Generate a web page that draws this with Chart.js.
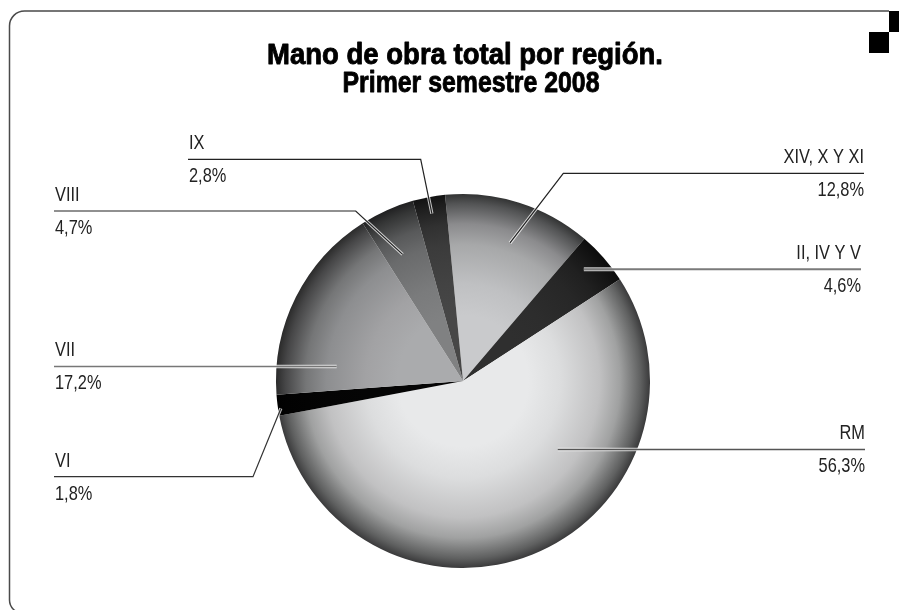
<!DOCTYPE html>
<html>
<head>
<meta charset="utf-8">
<script src="https://cdn.jsdelivr.net/npm/chart.js@4.4.1/dist/chart.umd.min.js"></script>
<style>
html,body{margin:0;padding:0;background:#fff;}
#c{display:block;}
</style>
</head>
<body>
<canvas id="c" width="899" height="610"></canvas>
<script>
// ---- data ----
const titleLines = ['Mano de obra total por región.', 'Primer semestre 2008'];
const regions = ['XIV, X Y XI', 'II, IV Y V', 'RM', 'VI', 'VII', 'VIII', 'IX'];
const shares = [12.8, 4.6, 56.3, 1.8, 17.2, 4.7, 2.8];
const sliceColors = ['#c9cacc', '#2f2f2f', '#e8e9ea', '#050505', '#aaabad', '#808182', '#474747'];

// ---- label layout (positions only, no data) ----
const labelLayout = [
  {side:'right', lineY:173.3, outerX:864, elbowX:563.3, delta:1.3, frac:0.78, color:'#222', w:1.2},
  {side:'right', lineY:null, outerX:861, elbowX:null, delta:-1.5, frac:0.88, color:'#7a7a7a', w:2},
  {side:'right', lineY:null, outerX:865, elbowX:null, delta:-32.3, frac:0.625, color:'#555', w:1.5},
  {side:'left', lineY:476.7, outerX:54, elbowX:253, delta:-1.1, frac:0.985, color:'#333', w:1.2},
  {side:'left', lineY:null, outerX:54, elbowX:null, delta:-20.1, frac:0.68, color:'#777', w:1.6},
  {side:'left', lineY:211, outerX:54, elbowX:355.7, delta:-1.5, frac:0.75, color:'#222', w:1.2},
  {side:'left', lineY:159.3, outerX:188, elbowX:420.7, delta:0, frac:0.91, color:'#222', w:1.2}
];

function shade(hex, f) {
  const n = parseInt(hex.slice(1), 16);
  const r = Math.round(((n >> 16) & 255) * f);
  const g = Math.round(((n >> 8) & 255) * f);
  const b = Math.round((n & 255) * f);
  return 'rgb(' + r + ',' + g + ',' + b + ')';
}

function sliceFill(context) {
  const chart = context.chart;
  const area = chart.chartArea;
  const base = sliceColors[context.dataIndex];
  if (!area) return base;
  const cx = (area.left + area.right) / 2;
  const cy = (area.top + area.bottom) / 2;
  const r = Math.min(area.right - area.left, area.bottom - area.top) / 2;
  const g = chart.ctx.createRadialGradient(cx, cy, 0, cx, cy, r);
  g.addColorStop(0, shade(base, 1));
  g.addColorStop(0.35, shade(base, 1));
  g.addColorStop(0.52, shade(base, 0.95));
  g.addColorStop(0.73, shade(base, 0.83));
  g.addColorStop(0.84, shade(base, 0.69));
  g.addColorStop(0.95, shade(base, 0.41));
  g.addColorStop(1, shade(base, 0.25));
  return g;
}

function drawText(ctx, s, x, y, align, font, sx, color) {
  ctx.save();
  ctx.font = font;
  ctx.fillStyle = color;
  ctx.textAlign = align;
  ctx.textBaseline = 'alphabetic';
  ctx.translate(x, y);
  ctx.scale(sx, 1);
  ctx.fillText(s, 0, 0);
  ctx.restore();
}

const decorPlugin = {
  id: 'decor',
  beforeDraw(chart) {
    const ctx = chart.ctx;
    ctx.save();
    ctx.fillStyle = '#fff';
    ctx.fillRect(0, 0, chart.width, chart.height);
    // frame
    ctx.strokeStyle = '#4a4a4a';
    ctx.lineWidth = 1.5;
    ctx.beginPath();
    ctx.moveTo(889, 11);
    ctx.lineTo(25, 11);
    ctx.arcTo(9.5, 11, 9.5, 26, 15);
    ctx.lineTo(9.5, 600);
    ctx.arcTo(9.5, 613, 22, 613, 13);
    ctx.lineTo(889, 613);
    ctx.stroke();
    // corner squares
    ctx.fillStyle = '#000';
    ctx.fillRect(889, 11, 10, 21);
    ctx.fillRect(869, 32, 20, 21);
    // title
    ctx.fillStyle = '#000';
    ctx.strokeStyle = '#000';
    ctx.lineWidth = 0.9;
    ctx.lineJoin = 'round';
    ctx.font = 'bold 30px "Liberation Sans", Arial, sans-serif';
    ctx.textAlign = 'center';
    ctx.textBaseline = 'alphabetic';
    ctx.fillText(titleLines[0], 465, 64, 396);
    ctx.strokeText(titleLines[0], 465, 64, 396);
    ctx.fillText(titleLines[1], 471, 92, 257);
    ctx.strokeText(titleLines[1], 471, 92, 257);
    ctx.restore();
  },
  afterDatasetsDraw(chart) {
    const ctx = chart.ctx;
    const meta = chart.getDatasetMeta(0);
    const font = '21px "Liberation Sans", Arial, sans-serif';
    meta.data.forEach((arc, i) => {
      const L = labelLayout[i];
      const mid = (arc.startAngle + arc.endAngle) / 2 + L.delta * Math.PI / 180;
      const rr = arc.outerRadius * L.frac;
      const ax = arc.x + rr * Math.cos(mid);
      const ay = arc.y + rr * Math.sin(mid);
      const lineY = L.lineY === null ? ay : L.lineY;
      const pts = [[ax, ay]];
      if (L.elbowX !== null) pts.push([L.elbowX, lineY]);
      else pts[0] = [ax, lineY];
      pts.push([L.outerX, lineY]);
      ctx.save();
      ctx.lineJoin = 'miter';
      ctx.strokeStyle = 'rgba(255,255,255,0.75)';
      ctx.lineWidth = L.w + 2;
      ctx.beginPath();
      ctx.moveTo(pts[0][0], pts[0][1]);
      for (let k = 1; k < pts.length; k++) ctx.lineTo(pts[k][0], pts[k][1]);
      ctx.stroke();
      ctx.strokeStyle = L.color;
      ctx.lineWidth = L.w;
      ctx.beginPath();
      ctx.moveTo(pts[0][0], pts[0][1]);
      for (let k = 1; k < pts.length; k++) ctx.lineTo(pts[k][0], pts[k][1]);
      ctx.stroke();
      ctx.restore();
      const valueText = shares[i].toFixed(1).replace('.', ',') + '%';
      const tx = L.side === 'left' ? L.outerX + 1 : L.outerX;
      const align = L.side === 'left' ? 'left' : 'right';
      drawText(ctx, regions[i], tx, lineY - 10, align, font, 0.78, '#222');
      drawText(ctx, valueText, tx, lineY + 23, align, font, 0.78, '#222');
    });
  }
};

new Chart(document.getElementById('c'), {
  type: 'pie',
  data: {
    labels: regions,
    datasets: [{
      data: shares,
      backgroundColor: sliceFill,
      borderWidth: 0,
      hoverOffset: 0
    }]
  },
  options: {
    responsive: false,
    animation: false,
    rotation: -5.5,
    layout: { padding: { left: 276, right: 249, top: 194, bottom: 42 } },
    plugins: {
      legend: { display: false },
      tooltip: { enabled: false },
      title: { display: false }
    },
    events: []
  },
  plugins: [decorPlugin]
});
</script>
</body>
</html>
